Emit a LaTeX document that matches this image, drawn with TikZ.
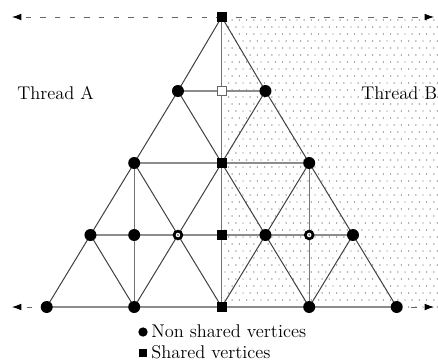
\documentclass[tikz,border=0pt]{standalone}
\usetikzlibrary{arrows.meta}
\begin{document}
\begin{tikzpicture}[x=0.75pt,y=-0.75pt,
  nonshared/.style={circle,fill=black,inner sep=0pt,minimum size=9pt},
  ring/.style={circle,fill=black,inner sep=0pt,minimum size=8pt},
  shared/.style={rectangle,fill=black,inner sep=0pt,minimum size=7.5pt},
  hollowshared/.style={rectangle,draw=black!60,fill=white,line width=0.5pt,inner sep=0pt,minimum size=6.5pt},
  diag/.style={draw=black!75,line width=0.75pt},
  horiz/.style={draw=black!45,line width=1pt},
  vert/.style={draw=black!55,line width=0.6pt},
  guide/.style={draw=black!60,line width=0.6pt,dash pattern=on 4pt off 7pt},
  tip/.style={-{Latex[length=7pt,width=5pt,black]}},
  label/.style={font=\fontsize{13.8}{16}\selectfont,inner sep=0pt}]
\useasboundingbox (0,0) rectangle (438,361);

% stippled half-plane of thread B
\foreach \j in {0,...,41} {
  \pgfmathsetmacro\yy{20+7*\j}
  \pgfmathsetmacro\off{mod(\j,2)*3.6}
  \foreach \i in {0,...,29} {
    \fill[black!55] (225+\off+7.2*\i,\yy) circle (0.55pt);
  }
}

% grid points: p<row><column>
\path (221.7,17)  coordinate (p04)
      (177.95,91) coordinate (p13) (221.7,91) coordinate (p14) (265.45,91) coordinate (p15)
      (134.2,163) coordinate (p22) (221.7,163) coordinate (p24) (309.2,163) coordinate (p26)
      (90.45,235) coordinate (p31) (134.2,235) coordinate (p32) (177.95,235) coordinate (p33)
      (221.7,235) coordinate (p34) (265.45,235) coordinate (p35) (309.2,235) coordinate (p36)
      (352.95,235) coordinate (p37)
      (46.7,307) coordinate (p40) (134.2,307) coordinate (p42) (221.7,307) coordinate (p44)
      (309.2,307) coordinate (p46) (396.7,307) coordinate (p48)
      (12,17) coordinate (tl) (434,17) coordinate (tr)
      (12,307) coordinate (bl) (434,307) coordinate (br);

% dashed guide lines with arrows
\draw[guide,tip] (p04) -- (tl);
\draw[guide,tip] (p04) -- (tr);
\draw[guide,tip] (p40) -- (bl);
\draw[guide,tip] (p48) -- (br);

% horizontal edges
\draw[horiz] (p13) -- (p14) -- (p15);
\draw[horiz] (p22) -- (p24) -- (p26);
\draw[horiz] (p31) -- (p32) -- (p33) -- (p34) -- (p35) -- (p36) -- (p37);
\draw[horiz] (p40) -- (p42) -- (p44) -- (p46) -- (p48);

% vertical edges
\draw[vert] (p04) -- (p14) -- (p24) -- (p34) -- (p44);
\draw[vert] (p22) -- (p32) -- (p42);
\draw[vert] (p26) -- (p36) -- (p46);

% outer triangle and diagonals
\draw[diag] (p40) -- (p31) -- (p22) -- (p13) -- (p04) -- (p15) -- (p26) -- (p37) -- (p48);
\draw[diag] (p15) -- (p24) -- (p33) -- (p42);
\draw[diag] (p26) -- (p35) -- (p44);
\draw[diag] (p37) -- (p46);
\draw[diag] (p13) -- (p24) -- (p35) -- (p46);
\draw[diag] (p22) -- (p33) -- (p44);
\draw[diag] (p31) -- (p42);

% vertices
\foreach \v in {13,15,22,26,31,32,35,37,40,42,46,48}
  \node[nonshared] (v\v) at (p\v) {};
\foreach \v in {04,24,34,44}
  \node[shared] (v\v) at (p\v) {};
\node[hollowshared] (v14) at (p14) {};
\foreach \v in {33,36} {
  \node[ring] (v\v) at (p\v) {};
  \fill[white] (v\v.center) circle (1.7pt);
  \fill[black!50] (v\v.center) circle (0.8pt);
}

% labels
\node[label,anchor=base west] (ta) at (17,99) {Thread A};
\node[label,anchor=base west] (tb) at (361,99) {Thread B};

% legend
\node[nonshared,minimum size=7pt] (legc) at (143,332) {};
\node[label,anchor=base west] (legct) at (151,337) {Non shared vertices};
\node[shared,minimum size=6pt] (legs) at (143,353) {};
\node[label,anchor=base west] (legst) at (151,358) {Shared vertices};
\end{tikzpicture}
\end{document}
